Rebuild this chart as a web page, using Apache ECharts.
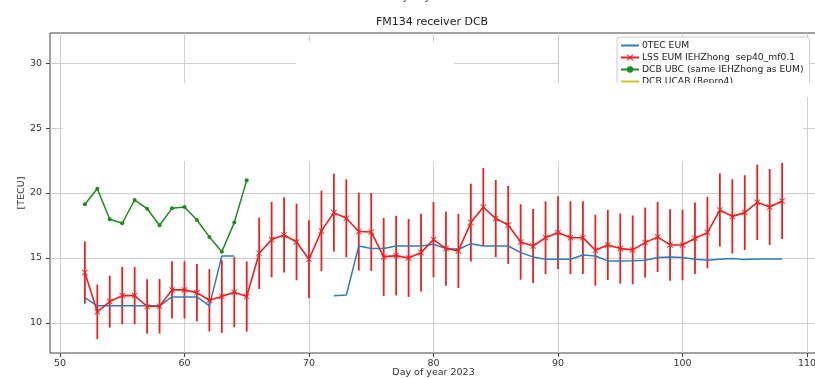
<!DOCTYPE html>
<html><head><meta charset="utf-8">
<script src="https://cdn.jsdelivr.net/npm/echarts@6/dist/echarts.min.js"></script>
<style>html,body{margin:0;padding:0;background:#fff}#c{width:815px;height:378px}</style>
</head><body><div id="c"></div>
<script>
const days = [52,53,54,55,56,57,58,59,60,61,62,63,64,65,66,67,68,69,70,71,72,73,74,75,76,77,78,79,80,81,82,83,84,85,86,87,88,89,90,91,92,93,94,95,96,97,98,99,100,101,102,103,104,105,106,107,108];
const lssValues = [13.87,10.85,11.64,12.10,12.10,11.26,11.28,12.54,12.54,12.33,11.74,12.03,12.36,12.03,15.36,16.41,16.77,16.23,14.90,17.08,18.49,18.05,17.03,17.00,15.08,15.18,15.00,15.41,16.41,15.72,15.54,17.72,18.92,18.03,17.54,16.23,15.92,16.56,16.95,16.56,16.56,15.59,16.00,15.72,15.62,16.18,16.62,16.00,16.00,16.51,16.95,18.69,18.20,18.49,19.28,18.92,19.38];
const lssErrors = [2.4,2.1,2.0,2.2,2.2,2.1,2.1,2.2,2.2,2.2,2.4,2.8,2.7,2.7,2.75,2.9,2.9,2.95,3.0,3.1,3.0,3.0,3.0,3.0,3.0,3.07,3.0,3.0,2.9,2.86,2.85,3.0,3.0,2.97,3.0,2.9,2.85,2.8,2.8,2.8,2.8,2.73,2.7,2.7,2.65,2.7,2.7,2.75,2.72,2.75,2.75,2.82,2.86,2.88,2.9,2.93,2.93];
const otecValues = [11.95,11.31,11.31,11.31,11.31,11.31,11.31,12.0,12.0,12.0,11.31,15.15,15.15,null,null,null,null,null,null,null,12.08,12.15,15.92,15.72,15.72,15.92,15.92,15.92,16.05,15.72,15.67,16.1,15.92,15.92,15.92,15.41,15.08,14.9,14.9,14.9,15.23,15.15,14.77,14.77,14.79,14.82,15.03,15.08,15.03,14.9,14.82,14.9,14.95,14.87,14.92,14.92,14.92];
const ubcDays = [52,53,54,55,56,57,58,59,60,61,62,63,64,65];
const ubcValues = [19.13,20.33,17.98,17.67,19.46,18.79,17.52,18.82,18.92,17.92,16.62,15.48,17.72,20.98];
const ucabDays = [];
const ucabValues = [];
const xTicks = [50,60,70,80,90,100,110];
const yTicks = [10,15,20,25,30];
const seriesNames = ['0TEC EUM','LSS EUM IEHZhong  sep40_mf0.1','DCB UBC (same IEHZhong as EUM)','DCB UCAB (Repro4)'];

const FONT = 'DejaVu Sans';
const RED = '#ee1f1f', BLUE = '#2f7dbb', GREEN = '#1e8a1e', YEL = '#c8c82a';
const zip = (xs, ys) => xs.map((x, i) => [x, ys[i]]);
const errData = days.map((d, i) => [d, lssValues[i] - lssErrors[i], lssValues[i] + lssErrors[i]]);
const XSYM = 'path://M0,1L1,0L5,4L9,0L10,1L6,5L10,9L9,10L5,6L1,10L0,9L4,5Z';

const chart = echarts.init(document.getElementById('c'), null, {renderer: 'canvas'});
chart.setOption({
  animation: false,
  backgroundColor: '#fff',
  textStyle: {fontFamily: FONT},
  title: {
    text: 'FM134 receiver DCB', left: 432, top: 17, textAlign: 'center', padding: 0,
    textStyle: {fontFamily: FONT, fontSize: 11, fontWeight: 'normal', color: '#222'}
  },
  grid: {left: 50, right: -2, top: 33, bottom: 25, containLabel: false, outerBoundsMode: 'none',
    show: true, borderColor: '#444', borderWidth: 1, backgroundColor: 'transparent'},
  legend: {
    orient: 'vertical', left: 617, top: 37, padding: [3, 6, 4, 3], itemGap: 1,
    itemWidth: 18, itemHeight: 8, backgroundColor: '#fff', borderColor: '#cccccc', borderWidth: 1, borderRadius: 3,
    textStyle: {fontFamily: FONT, fontSize: 9.2, lineHeight: 11, color: '#222', padding: [0,0,0,-2]},
    data: [
      {name: seriesNames[0], itemStyle: {opacity: 0}},
      {name: seriesNames[1]},
      {name: seriesNames[2]},
      {name: seriesNames[3], itemStyle: {opacity: 0}}
    ]
  },
  xAxis: {
    type: 'value', min: 49.2, max: 110.8,
    name: 'Day of year 2023', nameLocation: 'middle', nameGap: 15, nameMoveOverlap: false,
    nameTextStyle: {fontFamily: FONT, fontSize: 9.5, color: '#333'},
    axisLine: {show: false},
    axisTick: {show: true, inside: false, length: 4, lineStyle: {color: '#444'}, customValues: xTicks},
    axisLabel: {fontFamily: FONT, fontSize: 9.5, color: '#333', margin: 6, customValues: xTicks, showMinLabel: true, showMaxLabel: true, hideOverlap: false},
    splitLine: {show: true, lineStyle: {color: '#cfcfcf', width: 1}}
  },
  yAxis: {
    type: 'value', min: 7.68, max: 32.32,
    name: '[TECU]', nameLocation: 'middle', nameGap: 23, nameRotate: 90, nameMoveOverlap: false,
    nameTextStyle: {fontFamily: FONT, fontSize: 9.5, color: '#333'},
    axisLine: {show: false},
    axisTick: {show: true, inside: false, length: 4, lineStyle: {color: '#444'}, customValues: yTicks},
    axisLabel: {fontFamily: FONT, fontSize: 9.5, color: '#333', margin: 8, customValues: yTicks},
    splitLine: {show: true, lineStyle: {color: '#cfcfcf', width: 1}}
  },
  graphic: {elements: [
    {type: 'rect', z: 1, silent: true, shape: {x: 63, y: 83, width: 740, height: 78}, style: {fill: '#fff'}},
    {type: 'rect', z: 1, silent: true, shape: {x: 296, y: 42, width: 158, height: 42}, style: {fill: '#fff'}},
    {type: 'rect', z: 1, silent: true, shape: {x: 559, y: 42, width: 60, height: 42}, style: {fill: '#fff'}},
    {type: 'rect', z: 10, silent: true, shape: {x: 612, y: 83, width: 203, height: 14}, style: {fill: '#fff'}},
    {type: 'text', z: 10, silent: true, style: {text: 'Day of year 2023', x: 432, y: 2, textAlign: 'center', textVerticalAlign: 'bottom', font: '10px "DejaVu Sans"', fill: '#333'}}
  ]},
  series: [
    {
      name: seriesNames[0], type: 'line', data: zip(days, otecValues), connectNulls: false,
      symbol: 'none', color: BLUE, lineStyle: {color: BLUE, width: 1.5}, z: 3
    },
    {
      name: seriesNames[1] + ' err', type: 'custom', data: errData, z: 2, silent: true,
      renderItem: function (params, api) {
        const p1 = api.coord([api.value(0), api.value(1)]);
        const p2 = api.coord([api.value(0), api.value(2)]);
        return {type: 'line', shape: {x1: p1[0], y1: p1[1], x2: p2[0], y2: p2[1]}, style: {stroke: RED, lineWidth: 1.8}};
      },
      encode: {x: 0, y: [1, 2]}
    },
    {
      name: seriesNames[1], type: 'line', data: zip(days, lssValues),
      symbol: XSYM, symbolSize: 6, showAllSymbol: true, color: RED,
      itemStyle: {color: RED}, lineStyle: {color: RED, width: 1.6}, z: 4
    },
    {
      name: seriesNames[2], type: 'line', data: zip(ubcDays, ubcValues),
      symbol: 'circle', symbolSize: 4, showAllSymbol: true, color: GREEN,
      itemStyle: {color: GREEN}, lineStyle: {color: GREEN, width: 1.5}, z: 4
    },
    {
      name: seriesNames[3], type: 'line', data: zip(ucabDays, ucabValues),
      symbol: 'none', color: YEL, lineStyle: {color: YEL, width: 1.5}, z: 4
    }
  ]
});
</script></body></html>
